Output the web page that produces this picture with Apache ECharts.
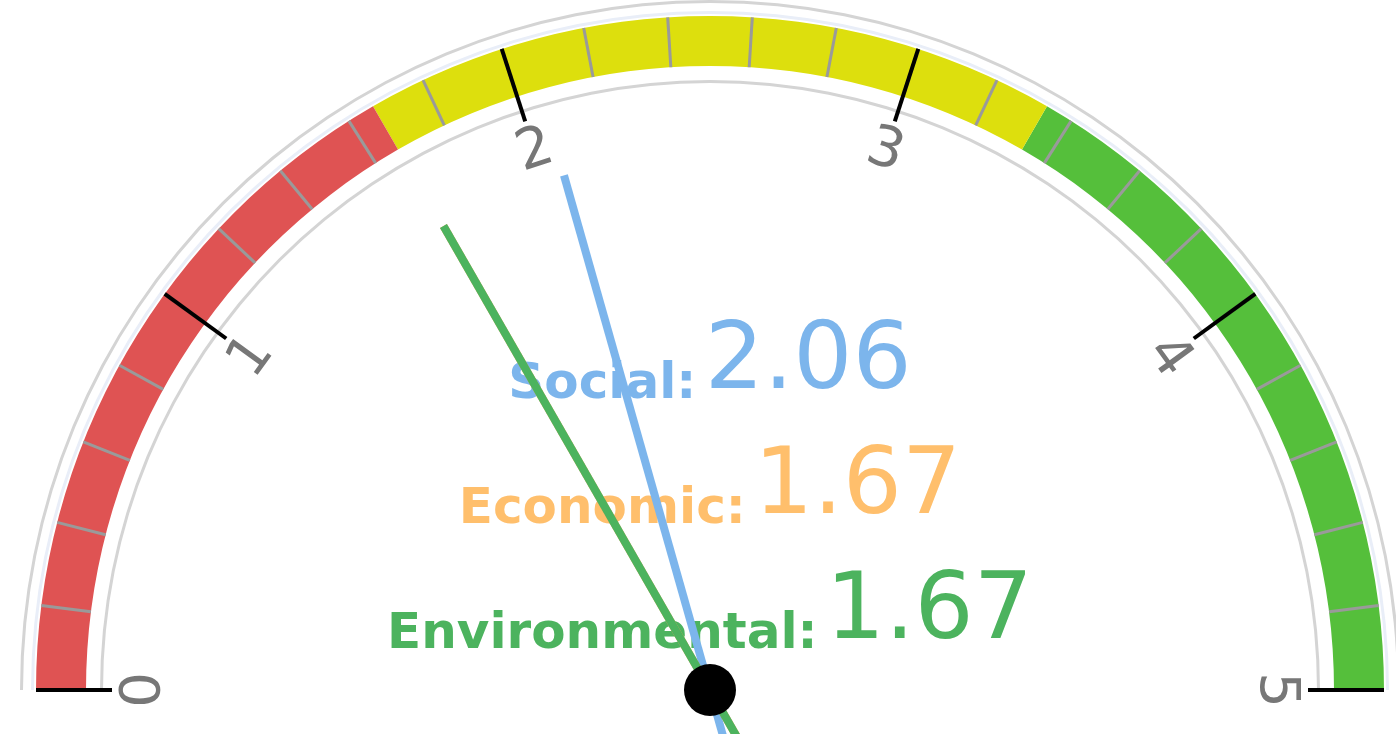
<!DOCTYPE html>
<html><head><meta charset="utf-8">
<script src="https://cdn.jsdelivr.net/npm/echarts@6/dist/echarts.min.js"></script>
<style>html,body{margin:0;padding:0;background:#fff}#c{width:1396px;height:734px}</style>
</head><body><div id="c"></div>
<script>
const categories = ['Social', 'Economic', 'Environmental'];
const values = [2.06, 1.67, 1.67];
const gaugeMin = 0;
const gaugeMax = 5;
const bandLimits = [5 / 3, 10 / 3, 5];

const bandColors = ['#DF5353', '#DDDF0D', '#55BF3B'];
const pointerColors = ['#7cb5ec', '#f7a35c', '#4cb35e'];
const textColors = ['#7cb5ec', '#ffbf6c', '#4cb35e'];
const detailOffsets = [-326, -201, -76];

const CX = 710, CY = 690, R = 674, BAND = 50;

const chart = echarts.init(document.getElementById('c'), null, {renderer: 'canvas'});

function bare(extra) {
  return Object.assign({
    type: 'gauge', center: [CX, CY], radius: R, startAngle: 180, endAngle: 0,
    min: gaugeMin, max: gaugeMax, splitNumber: 5,
    axisLine: {show: false}, axisTick: {show: false}, splitLine: {show: false}, axisLabel: {show: false},
    pointer: {show: false}, anchor: {show: false}, title: {show: false}, detail: {show: false},
    data: [{value: 0}]
  }, extra);
}

function ring(radius, color, width) {
  return bare({radius: radius, silent: true, z: 1,
    axisLine: {show: true, lineStyle: {width: width, color: [[1, color]]}}});
}

const series = [
  ring(R + 16, '#d4d4d4', 3),
  ring(R + 5, '#e9eef8', 3),
  ring(R - BAND - 14, '#d4d4d4', 3),
  bare({
    z: 2,
    axisLine: {show: true, lineStyle: {width: BAND, color: bandLimits.map((v, i) => [(v - gaugeMin) / (gaugeMax - gaugeMin), bandColors[i]])}},
    axisTick: {show: true, splitNumber: 5, distance: -BAND, length: BAND, lineStyle: {color: '#9a9a9a', width: 3}},
    axisLabel: {show: true, distance: 88, rotate: 'tangential', color: '#777', fontSize: 56, fontFamily: 'DejaVu Sans'}
  }),
  bare({
    z: 3,
    splitLine: {show: true, distance: -10, length: 76, lineStyle: {color: '#000', width: 4}}
  }),
  bare({
    z: 4,
    data: categories.map((name, i) => ({
      name: name, value: values[i],
      detail: {
        show: true, offsetCenter: [0, detailOffsets[i]],
        formatter: function (v) { return '{a|' + name + ':} {b|' + v.toFixed(2) + '}'; },
        rich: {
          a: {fontSize: 50, fontWeight: 'bold', color: textColors[i], fontFamily: 'DejaVu Sans', lineHeight: 64, verticalAlign: 'bottom'},
          b: {fontSize: 93, fontWeight: 'normal', color: textColors[i], fontFamily: 'DejaVu Sans', lineHeight: 92, verticalAlign: 'bottom'}
        }
      }
    }))
  }),
  bare({
    z: 5,
    pointer: {show: true, icon: 'rect', length: 595, width: 8, offsetCenter: [0, 60], keepAspect: false},
    anchor: {show: true, showAbove: true, size: 52, itemStyle: {color: '#000'}},
    data: categories.map((name, i) => ({name: name, value: values[i], itemStyle: {color: pointerColors[i]}}))
  })
];

chart.setOption({animation: false, backgroundColor: '#fff', series: series});
</script></body></html>
